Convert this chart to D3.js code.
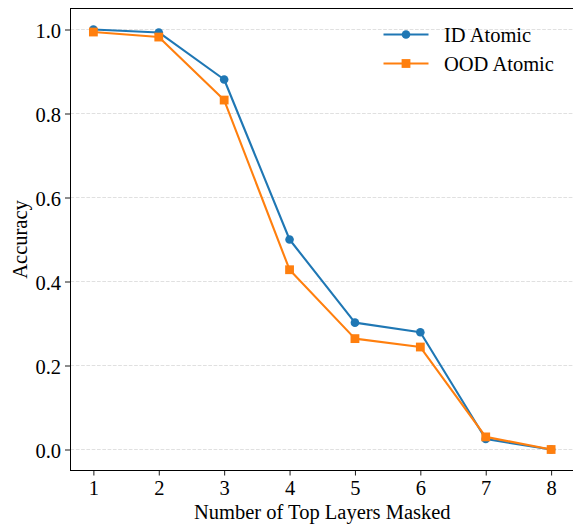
<!DOCTYPE html>
<html><head><meta charset="utf-8">
<script src="https://cdn.jsdelivr.net/npm/d3@7"></script>
<style>body{margin:0;background:#fff}svg{display:block}</style>
</head><body>
<script>
const layers = [1, 2, 3, 4, 5, 6, 7, 8];
const idAtomic = [1.0, 0.993, 0.881, 0.500, 0.302, 0.279, 0.025, 0.0];
const oodAtomic = [0.994, 0.982, 0.832, 0.428, 0.264, 0.244, 0.030, 0.0];
const yTicks = [0.0, 0.2, 0.4, 0.6, 0.8, 1.0];
const seriesNames = ["ID Atomic", "OOD Atomic"];

const W = 573, H = 524;
const mLeft = 70.5, mRight = 574, mTop = 8.5, mBottom = 470.5;
const font = "'Liberation Serif','Times New Roman',serif";
const fs = 20.5;
const svg = d3.select("body").append("svg").attr("width", W).attr("height", H);

const x = d3.scaleLinear().domain([0.65, 8.35]).range([mLeft, mRight]);
const y = d3.scaleLinear().domain([-0.05, 1.05]).range([mBottom, mTop]);

// grid
svg.append("g").selectAll("line").data(yTicks).join("line")
  .attr("x1", mLeft).attr("x2", mRight)
  .attr("y1", d => y(d)).attr("y2", d => y(d))
  .attr("stroke", "#dcdcdc").attr("stroke-width", 0.9).attr("stroke-dasharray", "3.7,1.6");

// axes
const xAxis = svg.append("g").attr("transform", `translate(0,${mBottom})`)
  .call(d3.axisBottom(x).tickValues(layers).tickFormat(d3.format("d")).tickSize(5).tickPadding(4));
const yAxis = svg.append("g").attr("transform", `translate(${mLeft},0)`)
  .call(d3.axisLeft(y).tickValues(yTicks).tickFormat(d3.format(".1f")).tickSize(5.5).tickPadding(4));
[xAxis, yAxis].forEach(g => {
  g.attr("font-family", null).attr("font-size", null);
  g.selectAll("text").style("font-family", font).style("font-size", fs + "px").attr("fill", "#000");
  g.selectAll("line").attr("stroke", "#000").attr("stroke-width", 0.9);
  g.select(".domain").remove();
});
xAxis.selectAll("text").attr("y", 24.5).attr("dy", 0);
yAxis.selectAll("text").attr("dy", 7.5);

// spines
svg.append("rect").attr("x", mLeft).attr("y", mTop).attr("width", mRight - mLeft).attr("height", mBottom - mTop)
  .attr("fill", "none").attr("stroke", "#000").attr("stroke-width", 1);

// lines
const colors = ["#1f77b4", "#ff7f0e"];
const data = [idAtomic, oodAtomic];
const line = d3.line().x((d, i) => x(layers[i])).y(d => y(d));
data.forEach((vals, k) => {
  svg.append("path").datum(vals).attr("d", line)
    .attr("fill", "none").attr("stroke", colors[k]).attr("stroke-width", 2.1).attr("stroke-linejoin", "round");
  if (k === 0) {
    svg.append("g").selectAll("circle").data(vals).join("circle")
      .attr("cx", (d, i) => x(layers[i])).attr("cy", d => y(d)).attr("r", 4.3).attr("fill", colors[k]);
  } else {
    svg.append("g").selectAll("rect").data(vals).join("rect")
      .attr("x", (d, i) => x(layers[i]) - 4.4).attr("y", d => y(d) - 4.4)
      .attr("width", 8.8).attr("height", 8.8).attr("fill", colors[k]);
  }
});

// labels
svg.append("text").attr("x", (mLeft + mRight) / 2).attr("y", 518.5).attr("text-anchor", "middle")
  .style("font-family", font).style("font-size", fs + "px").text("Number of Top Layers Masked");
svg.append("text").attr("transform", `translate(26.5,${(mTop + mBottom) / 2}) rotate(-90)`)
  .attr("text-anchor", "middle").style("font-family", font).style("font-size", fs + "px").text("Accuracy");

// legend
const lg = svg.append("g");
seriesNames.forEach((name, k) => {
  const ly = 34.5 + k * 29;
  lg.append("line").attr("x1", 383.5).attr("x2", 428.5).attr("y1", ly).attr("y2", ly)
    .attr("stroke", colors[k]).attr("stroke-width", 2.1);
  if (k === 0) lg.append("circle").attr("cx", 406).attr("cy", ly).attr("r", 4.3).attr("fill", colors[k]);
  else lg.append("rect").attr("x", 401.6).attr("y", ly - 4.4).attr("width", 8.8).attr("height", 8.8).attr("fill", colors[k]);
  lg.append("text").attr("x", 444).attr("y", ly + 7.2)
    .style("font-family", font).style("font-size", fs + "px").text(name);
});
</script>
</body></html>
